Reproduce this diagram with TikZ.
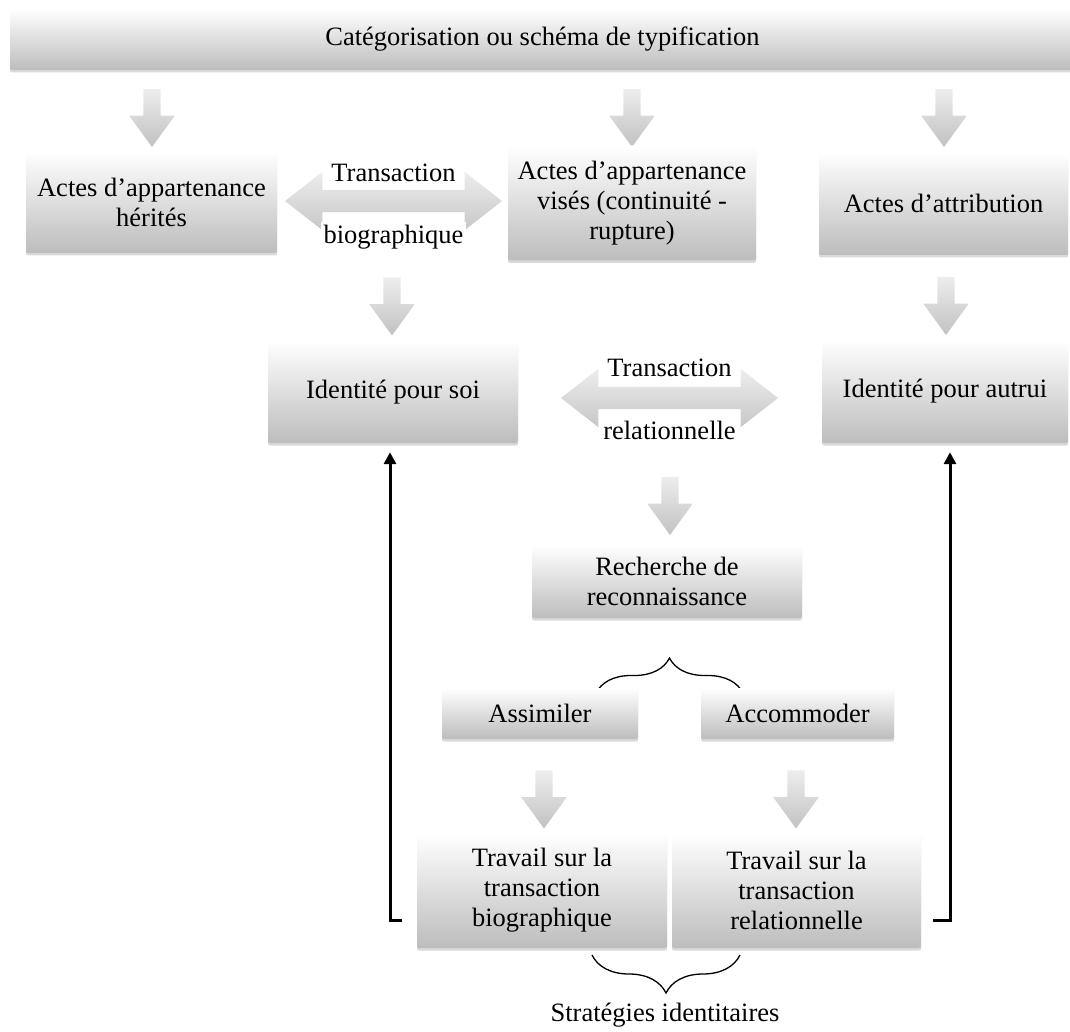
\documentclass[tikz,border=0pt]{standalone}
\usepackage{fontspec}
\setmainfont{Liberation Serif}
\usetikzlibrary{shapes.arrows, arrows.meta, positioning, calc, decorations.pathreplacing, shadows}

\begin{document}
\begin{tikzpicture}[
    x=1pt, y=-1pt,
    font=\fontsize{26.5}{30}\selectfont,
    box/.style={rectangle, rounded corners=2pt, top color=white, bottom color=black!26, align=center, inner sep=2pt,
        drop shadow={shadow xshift=0pt, shadow yshift=-2.5pt, opacity=0.3}},
    dnarrow/.style={single arrow, shape border rotate=270, minimum height=58pt, minimum width=45pt,
        single arrow head extend=14pt, single arrow tip angle=72, inner sep=8.5pt, top color=black!7, bottom color=black!24},
    dblarrow/.style={double arrow, minimum height=217pt, minimum width=58pt,
        double arrow head extend=18pt, double arrow tip angle=76, inner sep=11pt, top color=black!7, bottom color=black!22},
    tlabel/.style={fill=white, inner sep=3pt},
    fb/.style={-{Triangle[length=12pt, width=12pt]}, line width=3pt, shorten >=9pt},
    brc/.style={decorate, decoration={brace, amplitude=#1}, line width=1.3pt}
]
\useasboundingbox (0,0) rectangle (1070,1032);

% Bandeau du haut
\node[box, minimum width=1065pt, minimum height=61pt] (cat) at (542.5,39.5) {Catégorisation ou schéma de typification};

\node[dnarrow] (a1) at (152,112) {};
\node[dnarrow] (a2) at (632,112) {};
\node[dnarrow] (a3) at (944,112) {};

% Rangée 1 : actes
\node[box, minimum width=251pt, minimum height=101pt] (herites) at (151.5,202.5) {Actes d’appartenance\\hérités};
\node[box, minimum width=248pt, minimum height=115pt] (vises) at (632,203) {Actes d’appartenance\\visés (continuité -\\rupture)};
\node[box, minimum width=249pt, minimum height=103pt] (attrib) at (943.5,203.5) {Actes d’attribution};

\node[dblarrow] (dblbio) at (393.5,201) {};
\node[tlabel] (tbio) at (393.5,173) {Transaction};
\node[tlabel] (bbio) at (393.5,237) {biographique};

\node[dnarrow] (a4) at (392,300.5) {};
\node[dnarrow] (a5) at (946,300) {};

% Rangée 2 : identités
\node[box, minimum width=250pt, minimum height=102pt] (soi) at (393,392) {Identité pour soi};
\node[box, minimum width=246pt, minimum height=103pt] (autrui) at (945,391.5) {Identité pour autrui};

\node[dblarrow] (dblrel) at (669.5,398) {};
\node[tlabel] (trel) at (669.5,368) {Transaction};
\node[tlabel] (brel) at (669.5,430) {relationnelle};

\node[dnarrow] (a6) at (670,500) {};
\node[box, minimum width=270pt, minimum height=73pt] (recherche) at (667,581.5) {Recherche de\\reconnaissance};

% Assimiler / Accommoder
\draw[brc=35pt] (596,693) -- (743,693);
\node[box, minimum width=196pt, minimum height=51pt] (assim) at (540,713.5) {Assimiler};
\node[box, minimum width=193pt, minimum height=51pt] (accom) at (797.5,713.5) {Accommoder};

\node[dnarrow] (a7) at (544,793.5) {};
\node[dnarrow] (a8) at (796,793.5) {};

% Stratégies
\node[box, minimum width=250pt, minimum height=115pt] (travbio) at (542,890.5) {Travail sur la\\transaction\\biographique};
\node[box, minimum width=249pt, minimum height=115pt] (travrel) at (796.5,890.5) {Travail sur la\\transaction\\relationnelle};

\draw[brc=38pt] (740,955) -- (592,955);
\node (strat) at (665,1015) {Stratégies identitaires};

% Retours
\coordinate (lfoot) at (402,920);
\coordinate (rfoot) at (933,920);
\draw[fb] (lfoot) -| ([xshift=-3pt]soi.south);
\draw[fb] (rfoot) -| ([xshift=5pt]autrui.south);

\end{tikzpicture}
\end{document}
